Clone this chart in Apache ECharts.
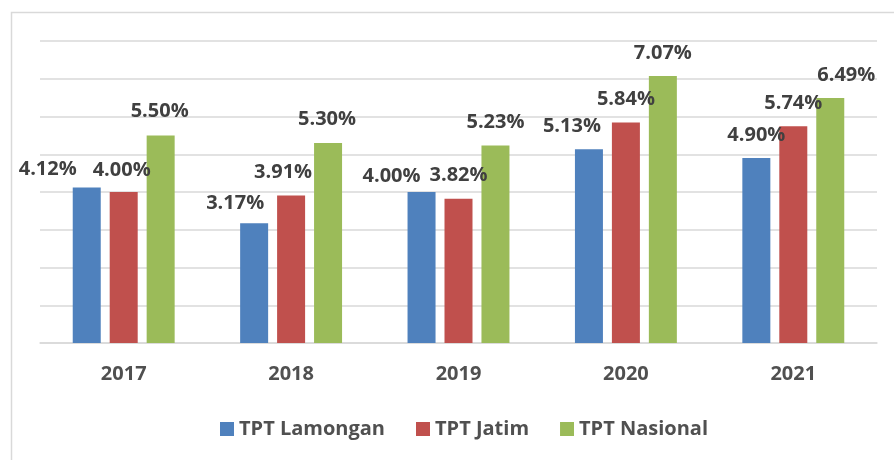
<!DOCTYPE html>
<html lang="en">

<head>
  <meta charset="UTF-8">
  <title>TPT Lamongan, Jatim, Nasional</title>
  <script src="https://cdn.jsdelivr.net/npm/echarts@6/dist/echarts.min.js"></script>
  <style>
    html, body { margin: 0; padding: 0; background: #fff; }
  </style>
</head>

<body>
  <div id="chart" style="width: 894px; height: 460px;"></div>

  <script>
    // data
    var years = ['2017', '2018', '2019', '2020', '2021'];
    var lamongan = [4.12, 3.17, 4.00, 5.13, 4.90];
    var jatim = [4.00, 3.91, 3.82, 5.84, 5.74];
    var nasional = [5.50, 5.30, 5.23, 7.07, 6.49];

    // label nudges (the labels were moved by hand in the original)
    var offLamongan = [[-39, 5], [-19, 3], [-30, 7], [-17, 0], [0, 0]];
    var offJatim = [[-2, 1], [-8, 0], [0, 0], [0, 0], [0, 0]];
    var offNasional = [[-1, -1], [-1, -1], [0, 0], [0, 0], [16, 0]];

    var font = '"Open Sans", sans-serif';

    function withLabels(values, offsets) {
      return values.map(function (v, i) {
        return { value: v, label: { offset: offsets[i] } };
      });
    }

    function makeSeries(name, values, offsets, color) {
      return {
        name: name,
        type: 'bar',
        barWidth: 28,
        barGap: '32%',
        data: withLabels(values, offsets),
        itemStyle: { color: color },
        label: {
          show: true,
          position: 'top',
          distance: 13,
          fontFamily: font,
          fontWeight: 'bold',
          fontSize: 20,
          color: '#404040',
          formatter: function (p) { return p.value.toFixed(2) + '%'; }
        }
      };
    }

    var myChart = echarts.init(document.getElementById('chart'));

    myChart.setOption({
      animation: false,
      graphic: [{
        type: 'rect',
        shape: { x: 11.5, y: 12.5, width: 900, height: 470 },
        style: { fill: 'none', stroke: '#d9d9d9', lineWidth: 1.5 },
        silent: true
      }],
      grid: { left: 40, right: 17, top: 41, bottom: 117 },
      legend: {
        left: 215,
        top: 414,
        icon: 'rect',
        itemWidth: 14,
        itemHeight: 14,
        itemGap: 31,
        textStyle: { fontFamily: font, fontWeight: 'bold', fontSize: 20, color: '#505050' },
        data: ['TPT Lamongan', 'TPT Jatim', 'TPT Nasional']
      },
      xAxis: {
        type: 'category',
        data: years,
        axisLine: { lineStyle: { color: '#d9d9d9', width: 1.5 } },
        axisTick: { show: false },
        axisLabel: { margin: 21, fontFamily: font, fontWeight: 'bold', fontSize: 20, color: '#505050' }
      },
      yAxis: {
        type: 'value',
        min: 0,
        max: 8,
        interval: 1,
        axisLabel: { show: false },
        axisLine: { show: false },
        splitLine: { lineStyle: { color: '#d9d9d9', width: 1.5 } }
      },
      series: [
        makeSeries('TPT Lamongan', lamongan, offLamongan, '#4f81bd'),
        makeSeries('TPT Jatim', jatim, offJatim, '#c0504d'),
        makeSeries('TPT Nasional', nasional, offNasional, '#9bbb59')
      ]
    });
  </script>
</body>

</html>
